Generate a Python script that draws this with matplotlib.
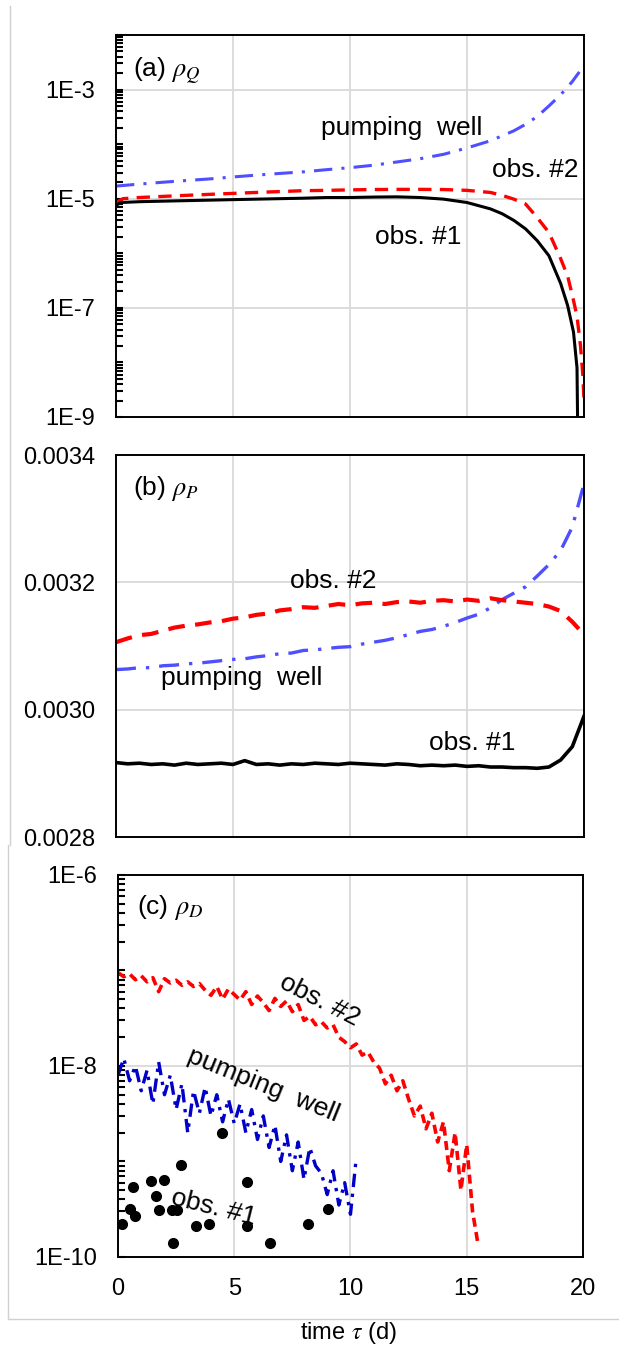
import numpy as np
import matplotlib
matplotlib.use("Agg")
import matplotlib.pyplot as plt
from matplotlib.lines import Line2D
from matplotlib.ticker import FixedLocator, LogLocator, FuncFormatter, NullFormatter

plt.rcParams['font.family'] = ['Liberation Sans', 'DejaVu Sans']
plt.rcParams['mathtext.fontset'] = 'stix'

# ---- panel (a) rho_Q ----
tau_pw_a = [0, 1, 2, 3, 4, 5, 6, 7, 8, 9, 10, 11, 12, 13, 14, 15, 16, 17, 17.5, 18, 18.5, 19, 19.5, 19.8]
pw_a = [1.7e-5, 1.85e-5, 2.0e-5, 2.15e-5, 2.3e-5, 2.5e-5, 2.7e-5, 2.9e-5, 3.1e-5, 3.4e-5, 3.7e-5,
        4.1e-5, 4.7e-5, 5.4e-5, 6.5e-5, 8.5e-5, 1.15e-4, 1.75e-4, 2.3e-4, 3.2e-4, 5e-4, 8e-4, 1.4e-3, 2.1e-3]

tau_o2_a = [0, 0.3, 1, 2, 3, 4, 5, 6, 7, 8, 9, 10, 11, 12, 13, 14, 15, 16, 16.5, 17, 17.5, 18, 18.5,
            19, 19.3, 19.5, 19.7, 19.85, 19.95, 20]
o2_a = [8.5e-6, 1.0e-5, 1.05e-5, 1.1e-5, 1.15e-5, 1.2e-5, 1.25e-5, 1.3e-5, 1.35e-5, 1.4e-5, 1.42e-5,
        1.45e-5, 1.47e-5, 1.48e-5, 1.48e-5, 1.47e-5, 1.42e-5, 1.3e-5, 1.15e-5, 9.8e-6, 8e-6, 4.5e-6,
        2.4e-6, 8e-7, 3.8e-7, 1.7e-7, 7e-8, 2e-8, 5.8e-9, 2e-9]

tau_o1_a = [0, 0.2, 1, 2, 3, 4, 5, 6, 7, 8, 9, 10, 11, 12, 13, 14, 15, 16, 16.5, 17, 17.5, 18, 18.5,
            19, 19.3, 19.55, 19.7, 19.75]
o1_a = [7.5e-6, 8.5e-6, 8.8e-6, 9.0e-6, 9.2e-6, 9.4e-6, 9.6e-6, 9.8e-6, 1.0e-5, 1.02e-5, 1.05e-5,
        1.05e-5, 1.07e-5, 1.08e-5, 1.05e-5, 9.8e-6, 8.5e-6, 6.5e-6, 5.3e-6, 4.0e-6, 2.8e-6, 1.7e-6,
        9e-7, 2.8e-7, 1.1e-7, 3.6e-8, 8e-9, 1e-10]

# ---- panel (b) rho_P ----
tau_b = [0, 0.5, 1, 1.5, 2, 2.5, 3, 3.5, 4, 4.5, 5, 5.5, 6, 6.5, 7, 7.5, 8, 8.5, 9, 9.5, 10,
         10.5, 11, 11.5, 12, 12.5, 13, 13.5, 14, 14.5, 15, 15.5, 16, 16.5, 17, 17.5, 18, 18.5, 19, 19.5, 20]
o2_b = [3.106, 3.112, 3.117, 3.119, 3.124, 3.129, 3.132, 3.134, 3.137, 3.139, 3.143, 3.145, 3.149,
        3.151, 3.156, 3.158, 3.161, 3.160, 3.163, 3.166, 3.164, 3.167, 3.168, 3.166, 3.169, 3.170,
        3.168, 3.171, 3.172, 3.170, 3.173, 3.171, 3.175, 3.172, 3.170, 3.168, 3.166, 3.162, 3.155,
        3.138, 3.118]
pw_b = [3.063, 3.064, 3.066, 3.066, 3.069, 3.070, 3.072, 3.073, 3.075, 3.077, 3.079, 3.080, 3.083,
        3.085, 3.088, 3.089, 3.093, 3.094, 3.096, 3.098, 3.099, 3.103, 3.106, 3.109, 3.113, 3.118,
        3.123, 3.126, 3.131, 3.137, 3.144, 3.150, 3.160, 3.173, 3.183, 3.193, 3.210, 3.228, 3.250,
        3.287, 3.355]
o1_b = [2.917, 2.915, 2.916, 2.914, 2.915, 2.913, 2.916, 2.914, 2.915, 2.916, 2.914, 2.920, 2.914,
        2.915, 2.913, 2.915, 2.914, 2.916, 2.915, 2.914, 2.916, 2.915, 2.914, 2.913, 2.915, 2.914,
        2.912, 2.913, 2.912, 2.913, 2.911, 2.912, 2.910, 2.910, 2.909, 2.909, 2.908, 2.910, 2.921,
        2.942, 2.990]

# ---- panel (c) rho_D ----
tau_o2_c = [0, 0.25, 0.5, 0.75, 1, 1.25, 1.5, 1.75, 2, 2.25, 2.5, 2.75, 3, 3.25, 3.5, 3.75, 4, 4.25,
            4.5, 4.75, 5, 5.25, 5.5, 5.75, 6, 6.25, 6.5, 6.75, 7, 7.25, 7.5, 7.75, 8, 8.25, 8.5, 8.75,
            9, 9.25, 9.5, 9.75, 10, 10.25, 10.5, 10.75, 11, 11.25, 11.5, 11.75, 12, 12.25, 12.5, 12.75,
            13, 13.25, 13.5, 13.75, 14, 14.25, 14.5, 14.75, 15, 15.25, 15.5]
o2_c = [9.5e-8, 8.6e-8, 9.2e-8, 8.0e-8, 8.8e-8, 7.6e-8, 8.4e-8, 6.0e-8, 8.2e-8, 7.4e-8, 7.9e-8,
        7.0e-8, 7.6e-8, 6.8e-8, 7.3e-8, 6.2e-8, 5.5e-8, 6.8e-8, 5.0e-8, 6.4e-8, 5.6e-8, 4.9e-8,
        6.0e-8, 4.4e-8, 5.4e-8, 4.6e-8, 3.8e-8, 5.1e-8, 4.2e-8, 4.8e-8, 3.7e-8, 4.4e-8, 3.0e-8,
        3.3e-8, 2.7e-8, 2.9e-8, 2.5e-8, 2.7e-8, 2.0e-8, 1.8e-8, 1.55e-8, 1.7e-8, 1.3e-8, 1.4e-8,
        1.1e-8, 9.5e-9, 6.5e-9, 8.0e-9, 5.5e-9, 7.0e-9, 4.5e-9, 3.0e-9, 3.8e-9, 2.2e-9, 3.2e-9,
        1.6e-9, 2.6e-9, 8e-10, 2.0e-9, 5e-10, 1.5e-9, 3e-10, 1.3e-10]

tau_pw_c = [0, 0.25, 0.5, 0.75, 1, 1.25, 1.5, 1.75, 2, 2.25, 2.5, 2.75, 3, 3.25, 3.5, 3.75, 4, 4.25,
            4.5, 4.75, 5, 5.25, 5.5, 5.75, 6, 6.25, 6.5, 6.75, 7, 7.25, 7.5, 7.75, 8, 8.25, 8.5, 8.75,
            9, 9.25, 9.5, 9.75, 10, 10.25]
pw_c = [8.0e-9, 1.2e-8, 7.0e-9, 1.0e-8, 5.5e-9, 9.0e-9, 4.0e-9, 1.1e-8, 5.0e-9, 8.0e-9, 3.5e-9,
        6.5e-9, 2.0e-9, 5.5e-9, 3.2e-9, 6.0e-9, 3.0e-9, 5.0e-9, 2.6e-9, 4.5e-9, 2.5e-9, 4.0e-9,
        2.0e-9, 3.5e-9, 1.7e-9, 3.0e-9, 1.4e-9, 2.4e-9, 1.0e-9, 1.9e-9, 8.0e-10, 1.6e-9, 6.5e-10,
        1.4e-9, 9.0e-10, 7.5e-10, 4.5e-10, 8.0e-10, 3.5e-10, 6.0e-10, 2.8e-10, 1.1e-9]

tau_o1_c = [0.16, 0.52, 0.63, 0.73, 1.42, 1.62, 1.75, 1.99, 2.31, 2.38, 2.52, 2.72, 3.34, 3.93,
            4.47, 5.54, 5.56, 6.54, 8.19, 9.02]
o1_c = [2.2e-10, 3.2e-10, 5.4e-10, 2.7e-10, 6.3e-10, 4.4e-10, 3.1e-10, 6.4e-10, 3.1e-10, 1.4e-10,
        3.1e-10, 9.1e-10, 2.1e-10, 2.2e-10, 2.0e-9, 2.1e-10, 6.1e-10, 1.4e-10, 2.2e-10, 3.2e-10]

BLUE_A = '#4f4fff'
BLUE_C = '#0000c8'
RED = '#ff0000'
GRID = '#d9d9d9'
FS_TICK = 17
FS_TXT = 19

fig = plt.figure(figsize=(6.19, 13.49), dpi=100)
ax_a = fig.add_axes([0.1874, 0.6909, 0.7561, 0.2832])
ax_b = fig.add_axes([0.1874, 0.3795, 0.7561, 0.2832])
ax_c = fig.add_axes([0.1906, 0.0682, 0.7512, 0.2832])

def log_fmt(v, pos):
    return "1E%d" % int(round(np.log10(v)))

for ax in (ax_a, ax_b, ax_c):
    ax.set_xlim(0, 20)
    ax.set_xticks([0, 5, 10, 15, 20])
    ax.grid(True, color=GRID, lw=1.3)
    ax.set_axisbelow(True)
    for s in ax.spines.values():
        s.set_linewidth(1.4)
        s.set_color('black')
    ax.tick_params(axis='x', length=0, pad=15, labelsize=FS_TICK)
    ax.tick_params(axis='y', which='both', direction='in', pad=15, labelsize=FS_TICK)

ax_a.tick_params(axis='x', labelbottom=False)
ax_b.tick_params(axis='x', labelbottom=False)

# (a)
ax_a.set_yscale('log')
ax_a.set_ylim(1e-9, 1e-2)
ax_a.yaxis.set_major_locator(FixedLocator([1e-9, 1e-7, 1e-5, 1e-3]))
ax_a.yaxis.set_minor_locator(LogLocator(base=10, subs=np.arange(1, 10), numticks=30))
ax_a.yaxis.set_major_formatter(FuncFormatter(log_fmt))
ax_a.yaxis.set_minor_formatter(NullFormatter())
ax_a.tick_params(axis='y', which='both', length=5, width=1.5)
ax_a.plot(tau_pw_a, pw_a, color=BLUE_A, lw=2.2, ls=(0, (6, 3, 1, 3)))
ax_a.plot(tau_o2_a, o2_a, color=RED, lw=2.4, ls=(0, (4, 2.5)))
ax_a.plot(tau_o1_a, o1_a, color='black', lw=2.2)
ax_a.text(0.73, 2.1e-3, r"(a) $\rho_Q$", fontsize=FS_TXT, va='center', ha='left')
ax_a.text(12.2, 2.0e-4, "pumping  well", fontsize=FS_TXT, va='center', ha='center')
ax_a.text(17.9, 3.4e-5, "obs. #2", fontsize=FS_TXT, va='center', ha='center')
ax_a.text(12.9, 2.0e-6, "obs. #1", fontsize=FS_TXT, va='center', ha='center')

# (b)
ax_b.set_ylim(0.0028, 0.0034)
ax_b.set_yticks([0.0028, 0.0030, 0.0032, 0.0034])
ax_b.yaxis.set_major_formatter(FuncFormatter(lambda v, p: "%.4f" % v))
ax_b.tick_params(axis='y', length=0)
ax_b.plot(tau_b, np.array(pw_b) * 1e-3, color=BLUE_A, lw=2.4, ls=(0, (6, 3, 1, 3)))
ax_b.plot(tau_b, np.array(o2_b) * 1e-3, color=RED, lw=3.0, ls=(0, (4, 2.5)))
ax_b.plot(tau_b, np.array(o1_b) * 1e-3, color='black', lw=2.6)
ax_b.text(0.73, 0.003348, r"(b) $\rho_P$", fontsize=FS_TXT, va='center', ha='left')
ax_b.text(9.27, 0.003202, "obs. #2", fontsize=FS_TXT, va='center', ha='center')
ax_b.text(5.38, 0.003050, "pumping  well", fontsize=FS_TXT, va='center', ha='center')
ax_b.text(15.2, 0.002948, "obs. #1", fontsize=FS_TXT, va='center', ha='center')

# (c)
ax_c.set_yscale('log')
ax_c.set_ylim(1e-10, 1e-6)
ax_c.yaxis.set_major_locator(FixedLocator([1e-10, 1e-8, 1e-6]))
ax_c.yaxis.set_minor_locator(LogLocator(base=10, subs=np.arange(1, 10), numticks=30))
ax_c.yaxis.set_major_formatter(FuncFormatter(log_fmt))
ax_c.yaxis.set_minor_formatter(NullFormatter())
ax_c.tick_params(axis='y', which='both', length=5, width=1.5)
ax_c.plot(tau_o2_c, o2_c, color=RED, lw=2.6, ls=(0, (2.5, 1.5)))
ax_c.plot(tau_pw_c, pw_c, color=BLUE_C, lw=2.4, ls=(0, (4, 2, 1, 2)))
ax_c.plot(tau_o1_c, o1_c, 'o', color='black', ms=7, ls='none')
ax_c.text(0.82, 4.6e-7, r"(c) $\rho_D$", fontsize=FS_TXT, va='center', ha='left')
ax_c.text(8.69, 4.9e-8, "obs. #2", fontsize=FS_TXT, va='center', ha='center',
          rotation=-27, rotation_mode='anchor')
ax_c.text(6.24, 6.3e-9, "pumping  well", fontsize=FS_TXT, va='center', ha='center',
          rotation=-22, rotation_mode='anchor')
ax_c.text(4.13, 3.3e-10, "obs. #1", fontsize=FS_TXT, va='center', ha='center',
          rotation=-14, rotation_mode='anchor')

fig.text(0.563, 0.012, r"time $\tau$ (d)", fontsize=FS_TICK, ha='center', va='center')

# thin frame lines of the original panels
W, H = 619.0, 1349.0
for (x0, y0, x1, y1) in [(10, 6, 10, 845), (8, 845, 8, 1319), (8, 1319, 619, 1319)]:
    fig.add_artist(Line2D([x0 / W, x1 / W], [1 - y0 / H, 1 - y1 / H],
                          transform=fig.transFigure, color='#d0d0d0', lw=1.0))

fig.savefig("out.png", dpi=100)
